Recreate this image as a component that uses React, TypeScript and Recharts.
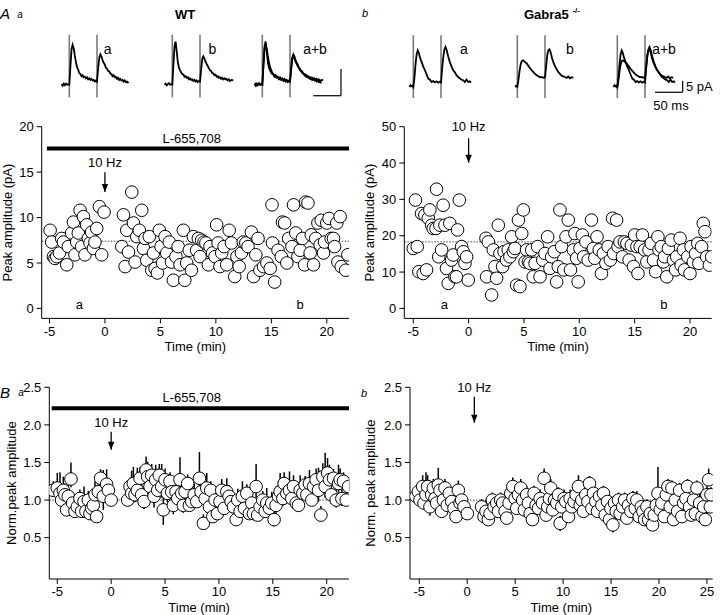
import React from "react";
import {
  ScatterChart,
  Scatter,
  XAxis,
  YAxis,
  ReferenceLine,
  ReferenceDot,
  ErrorBar,
  LineChart,
  Line,
} from "recharts";

const FONT = '"Liberation Sans", Arial, Helvetica, sans-serif';

// A a: WT peak amplitude (pA) vs time (min)
const wtPeak: [number, number][] = [
  [-4.94, 8.6], [-4.8, 7.3], [-4.64, 5.7], [-4.5, 5.5], [-4.34, 5.7], [-4.1, 6.1], [-3.9, 7.7], [-3.74, 7.3],
  [-3.44, 4.8], [-3.3, 6.8], [-3.0, 8.3], [-2.84, 9.5], [-2.7, 5.9], [-2.54, 7.3], [-2.4, 8.3], [-2.24, 10.8],
  [-2.1, 6.8], [-1.94, 10.1], [-1.8, 5.9], [-1.64, 9.2], [-1.5, 7.7], [-1.34, 7.2], [-1.2, 8.4], [-1.04, 6.6],
  [-0.9, 7.3], [-0.74, 8.8], [-0.5, 11.2], [-0.29, 5.9], [-0.08, 10.6],
  [1.52, 6.8], [1.67, 10.3], [1.82, 4.6], [1.97, 8.6], [2.12, 6.2], [2.42, 12.8], [2.57, 9.4], [2.72, 5.1],
  [2.87, 7.9], [3.1, 8.6], [3.32, 10.8], [3.47, 6.6], [3.62, 7.7], [3.77, 5.3], [4.0, 7.9], [4.22, 4.2],
  [4.37, 6.1], [4.52, 4.4], [4.73, 3.9], [4.9, 8.6], [5.06, 6.8], [5.2, 5.0], [5.42, 7.9], [5.57, 6.1],
  [5.8, 7.3], [6.0, 5.1], [6.17, 3.1], [6.4, 5.7], [6.6, 6.8], [6.77, 4.8], [7.07, 8.6], [7.2, 3.1],
  [7.37, 5.0], [7.6, 6.4], [7.8, 4.2], [7.97, 7.9], [8.27, 6.4], [8.42, 7.7], [8.57, 5.7], [8.72, 7.5],
  [8.93, 7.3], [9.1, 7.2], [9.32, 4.8], [9.47, 6.8], [9.7, 6.1], [9.92, 5.7], [10.07, 9.2], [10.2, 7.2],
  [10.37, 4.6], [10.53, 6.1], [10.74, 6.8], [10.98, 4.8], [11.2, 8.6], [11.4, 7.2], [11.7, 3.5], [11.9, 5.7],
  [12.1, 4.6], [12.3, 6.1], [12.47, 7.3], [12.7, 7.2], [12.9, 6.8], [13.2, 8.4], [13.4, 3.5], [13.6, 5.9],
  [13.8, 7.7], [13.97, 4.2], [14.3, 4.6], [14.6, 5.0], [14.9, 4.4], [15.06, 11.4], [15.1, 7.2], [15.3, 2.9],
  [15.6, 6.4], [15.9, 5.7], [16.0, 9.5], [16.2, 9.4], [16.4, 5.0], [16.56, 7.7], [16.86, 6.8], [17.0, 11.4],
  [17.2, 8.3], [17.4, 5.7], [17.6, 6.4], [17.8, 7.7], [18.0, 4.8], [18.1, 11.7], [18.3, 11.6], [18.5, 6.1],
  [18.6, 8.1], [18.8, 4.8], [19.0, 7.7], [19.2, 9.4], [19.4, 7.0], [19.5, 9.7], [19.7, 6.1], [19.8, 7.3],
  [20.0, 9.4], [20.2, 9.9], [20.4, 7.7], [20.6, 7.7], [20.7, 6.8], [20.9, 9.4], [21.0, 5.1], [21.2, 10.1],
  [21.3, 4.6], [21.7, 4.2], [21.9, 5.9],
];

// A b: Gabra5-/- peak amplitude (pA)
const koPeak: [number, number][] = [
  [-5.0, 16.5], [-4.8, 29.8], [-4.64, 17.0], [-4.5, 10.1], [-4.25, 26.1], [-4.1, 9.6], [-3.95, 25.7], [-3.8, 10.6],
  [-3.64, 24.8], [-3.5, 27.1], [-3.34, 22.9], [-3.2, 22.0], [-2.95, 22.0], [-2.9, 32.8], [-2.7, 14.2], [-2.6, 22.9],
  [-2.44, 16.1], [-2.3, 28.4], [-2.14, 22.9], [-2.0, 11.0], [-1.84, 6.9], [-1.7, 23.4], [-1.54, 13.3], [-1.4, 14.7],
  [-1.24, 8.7], [-1.1, 8.7], [-1.0, 21.6], [-0.84, 29.8], [-0.63, 17.0], [-0.48, 15.6], [-0.33, 12.4], [-0.18, 14.2],
  [-0.03, 7.8],
  [1.57, 19.3], [1.63, 8.7], [1.78, 18.3], [2.08, 3.7], [2.23, 16.1], [2.38, 11.5], [2.53, 8.3], [2.68, 22.9],
  [2.83, 15.1], [3.07, 11.5], [3.2, 15.6], [3.43, 13.3], [3.58, 16.1], [3.73, 14.2], [3.89, 19.7], [4.04, 15.6],
  [4.19, 16.5], [4.34, 6.4], [4.5, 24.3], [4.64, 6.0], [4.8, 20.6], [4.94, 27.1], [5.1, 12.8], [5.24, 16.1],
  [5.4, 12.8], [5.54, 12.4], [5.7, 16.1], [5.84, 8.7], [6.0, 12.4], [6.23, 17.0], [6.45, 8.7], [6.7, 13.3],
  [6.9, 15.1], [7.14, 19.7], [7.35, 11.0], [7.5, 14.2], [7.74, 15.6], [7.95, 7.3], [8.1, 11.5], [8.25, 27.1],
  [8.4, 17.0], [8.6, 10.6], [8.8, 19.7], [9.0, 24.3], [9.2, 10.6], [9.46, 16.1], [9.6, 20.6], [9.76, 13.8],
  [9.9, 7.3], [10.06, 16.5], [10.27, 20.2], [10.4, 14.2], [10.6, 18.3], [10.8, 13.3], [11.1, 24.3], [11.27, 16.5],
  [11.4, 13.8], [11.6, 19.7], [11.8, 16.1], [12.0, 9.6], [12.17, 15.1], [12.4, 12.4], [12.6, 17.0], [12.8, 13.3],
  [13.0, 24.8], [13.1, 15.1], [13.37, 24.3], [13.5, 17.0], [13.67, 18.3], [13.9, 14.2], [14.07, 18.3], [14.3, 17.9],
  [14.5, 13.3], [14.7, 17.4], [14.9, 11.5], [15.0, 20.2], [15.2, 17.0], [15.3, 9.6], [15.5, 17.0], [15.7, 20.2],
  [15.9, 16.1], [16.1, 12.8], [16.3, 16.1], [16.5, 17.9], [16.7, 13.3], [16.9, 10.1], [17.1, 19.7], [17.2, 16.1],
  [17.4, 17.0], [17.6, 12.8], [17.7, 14.2], [17.9, 8.7], [18.05, 16.5], [18.3, 18.8], [18.5, 13.3], [18.7, 10.6],
  [18.8, 14.2], [19.1, 19.3], [19.2, 11.9], [19.4, 16.1], [19.5, 10.6], [19.8, 14.2], [20.0, 9.6], [20.1, 17.0],
  [20.3, 12.8], [20.5, 15.1], [20.7, 17.9], [20.8, 12.4], [21.05, 17.0], [21.2, 23.4], [21.35, 21.1], [21.5, 14.2],
  [21.75, 11.9], [21.96, 14.2],
];

// B a: WT normalised peak amplitude [time, mean, error below, error above]
const wtNorm: [number, number, number, number][] = [
  [-5.37, 1.13, 0.06, 0.12], [-5.0, 1.16, 0.1, 0.2], [-4.75, 1.09, 0.14, 0.28], [-4.6, 1.0, 0.08, 0.15], [-4.44, 1.13, 0.09, 0.18], [-4.29, 1.07, 0.08, 0.15],
  [-4.13, 0.87, 0.06, 0.12], [-3.98, 1.05, 0.1, 0.2], [-3.73, 1.28, 0.11, 0.22], [-3.58, 0.96, 0.08, 0.15], [-3.36, 0.85, 0.06, 0.12], [-3.14, 0.91, 0.09, 0.18],
  [-2.9, 1.02, 0.06, 0.12], [-2.74, 0.85, 0.08, 0.15], [-2.52, 0.98, 0.1, 0.2], [-2.34, 0.85, 0.09, 0.18], [-2.12, 1.0, 0.06, 0.12], [-1.97, 0.82, 0.08, 0.15],
  [-1.81, 0.89, 0.08, 0.15], [-1.66, 0.93, 0.06, 0.12], [-1.5, 1.07, 0.09, 0.18], [-1.35, 0.78, 0.06, 0.12], [-1.19, 1.11, 0.08, 0.15], [-0.98, 1.29, 0.06, 0.12],
  [-0.73, 1.05, 0.18, 0.35], [-0.42, 1.21, 0.1, 0.2], [-0.26, 1.13, 0.06, 0.12], [0.0, 1.0, 0.05, 0.1],
  [1.53, 1.0, 0.08, 0.15], [1.75, 1.18, 0.06, 0.12], [1.9, 1.09, 0.15, 0.3], [2.06, 1.22, 0.11, 0.22], [2.21, 1.07, 0.1, 0.2], [2.43, 1.13, 0.15, 0.3],
  [2.68, 1.29, 0.08, 0.15], [2.83, 1.07, 0.09, 0.18], [3.05, 0.98, 0.1, 0.2], [3.24, 1.4, 0.09, 0.18], [3.39, 1.31, 0.1, 0.2], [3.61, 1.18, 0.12, 0.25],
  [3.76, 1.33, 0.08, 0.15], [3.98, 1.05, 0.15, 0.3], [4.13, 1.27, 0.1, 0.2], [4.32, 1.13, 0.14, 0.28], [4.47, 1.33, 0.08, 0.15], [4.69, 1.18, 0.15, 0.3],
  [4.84, 0.87, 0.2, 0.2], [5.0, 1.27, 0.08, 0.15], [5.22, 1.09, 0.12, 0.25], [5.46, 1.25, 0.06, 0.12], [5.62, 1.11, 0.09, 0.18], [5.77, 0.93, 0.12, 0.25],
  [6.02, 1.11, 0.08, 0.15], [6.18, 1.02, 0.06, 0.12], [6.39, 1.27, 0.15, 0.3], [6.55, 1.09, 0.08, 0.15], [6.7, 0.93, 0.1, 0.2], [6.86, 1.11, 0.08, 0.15],
  [7.1, 1.22, 0.06, 0.12], [7.26, 0.93, 0.08, 0.15], [7.48, 0.98, 0.1, 0.2], [7.7, 1.07, 0.08, 0.15], [7.94, 0.98, 0.06, 0.12], [8.19, 1.29, 0.18, 0.35],
  [8.34, 1.11, 0.1, 0.2], [8.56, 0.69, 0.06, 0.12], [8.72, 1.02, 0.08, 0.15], [8.87, 1.16, 0.1, 0.2], [9.12, 0.91, 0.08, 0.15], [9.24, 1.13, 0.06, 0.12],
  [9.43, 0.78, 0.08, 0.15], [9.64, 1.0, 0.06, 0.12], [9.86, 0.82, 0.08, 0.15], [10.1, 0.98, 0.06, 0.12], [10.26, 1.13, 0.08, 0.15], [10.48, 0.89, 0.06, 0.12],
  [10.73, 1.11, 0.09, 0.18], [10.94, 1.05, 0.08, 0.15], [11.13, 0.98, 0.08, 0.15], [11.35, 0.91, 0.06, 0.12], [11.6, 0.74, 0.06, 0.12], [11.75, 1.0, 0.08, 0.15],
  [11.97, 0.85, 0.08, 0.15], [12.18, 1.05, 0.1, 0.2], [12.37, 0.89, 0.08, 0.15], [12.59, 1.09, 0.06, 0.12], [12.83, 0.82, 0.08, 0.15], [13.05, 0.96, 0.06, 0.12],
  [13.2, 0.82, 0.08, 0.15], [13.45, 1.18, 0.15, 0.3], [13.6, 0.8, 0.06, 0.12], [13.82, 0.91, 0.08, 0.15], [14.07, 1.0, 0.06, 0.12], [14.29, 0.85, 0.08, 0.15],
  [14.44, 0.96, 0.15, 0.2], [14.69, 0.89, 0.06, 0.12], [14.9, 0.96, 0.12, 0.15], [15.12, 0.74, 0.09, 0.18], [15.3, 0.93, 0.12, 0.25], [15.53, 1.05, 0.1, 0.2],
  [15.68, 1.11, 0.12, 0.25], [15.93, 1.02, 0.1, 0.2], [16.05, 1.22, 0.08, 0.15], [16.3, 1.09, 0.1, 0.2], [16.55, 1.13, 0.12, 0.25], [16.76, 1.02, 0.09, 0.18],
  [16.92, 1.18, 0.08, 0.15], [17.17, 0.96, 0.08, 0.15], [17.38, 0.93, 0.06, 0.12], [17.54, 1.13, 0.1, 0.2], [17.79, 1.09, 0.08, 0.15], [18.0, 1.2, 0.06, 0.12],
  [18.16, 1.07, 0.1, 0.2], [18.4, 1.22, 0.09, 0.18], [18.62, 1.0, 0.08, 0.15], [18.78, 1.18, 0.08, 0.15], [19.02, 1.27, 0.08, 0.15], [19.24, 1.13, 0.15, 0.3],
  [19.46, 0.8, 0.06, 0.12], [19.64, 1.31, 0.09, 0.18], [19.86, 1.18, 0.15, 0.45], [20.08, 1.36, 0.1, 0.2], [20.26, 1.27, 0.1, 0.2], [20.42, 1.07, 0.12, 0.25],
  [20.63, 1.29, 0.06, 0.12], [20.88, 1.0, 0.1, 0.2], [21.1, 1.22, 0.12, 0.25], [21.25, 1.27, 0.08, 0.15], [21.41, 1.02, 0.1, 0.2], [21.56, 1.25, 0.06, 0.12],
  [21.81, 1.0, 0.08, 0.15], [22.03, 1.18, 0.06, 0.12],
];

// B b: Gabra5-/- normalised peak amplitude [time, mean, error below, error above]
const koNorm: [number, number, number, number][] = [
  [-5.35, 1.05, 0.05, 0.1], [-5.1, 1.11, 0.06, 0.12], [-4.93, 1.0, 0.05, 0.1], [-4.65, 1.18, 0.08, 0.15], [-4.51, 0.96, 0.05, 0.1], [-4.3, 1.07, 0.15, 0.3],
  [-4.13, 1.18, 0.08, 0.15], [-3.89, 0.91, 0.12, 0.12], [-3.71, 1.07, 0.05, 0.1], [-3.54, 1.16, 0.06, 0.12], [-3.36, 1.02, 0.05, 0.1], [-3.19, 0.96, 0.06, 0.12],
  [-3.02, 1.2, 0.12, 0.23], [-2.84, 1.13, 0.05, 0.1], [-2.67, 0.85, 0.06, 0.12], [-2.49, 1.0, 0.05, 0.1], [-2.32, 1.16, 0.06, 0.12], [-2.08, 0.93, 0.12, 0.15],
  [-1.87, 1.09, 0.05, 0.1], [-1.62, 0.98, 0.06, 0.12], [-1.38, 0.89, 0.05, 0.1], [-1.17, 0.78, 0.06, 0.12], [-0.93, 1.13, 0.07, 0.13], [-0.75, 0.96, 0.05, 0.1],
  [-0.58, 1.0, 0.05, 0.1], [-0.34, 0.91, 0.06, 0.12], [0.01, 0.82, 0.05, 0.1],
  [1.5, 0.91, 0.05, 0.1], [1.75, 0.78, 0.06, 0.12], [1.96, 0.85, 0.15, 0.15], [2.2, 0.74, 0.06, 0.12], [2.38, 0.82, 0.05, 0.1], [2.62, 1.0, 0.05, 0.1],
  [2.8, 0.91, 0.05, 0.1], [3.08, 0.96, 0.05, 0.1], [3.25, 0.85, 0.06, 0.12], [3.49, 1.0, 0.05, 0.1], [3.7, 0.96, 0.05, 0.1], [3.95, 0.85, 0.06, 0.12],
  [4.12, 0.76, 0.05, 0.1], [4.36, 0.96, 0.05, 0.1], [4.54, 1.09, 0.08, 0.15], [4.75, 1.18, 0.06, 0.12], [4.99, 1.02, 0.05, 0.1], [5.16, 0.89, 0.06, 0.12],
  [5.34, 1.07, 0.05, 0.1], [5.58, 1.16, 0.06, 0.12], [5.79, 1.0, 0.05, 0.1], [5.96, 0.87, 0.05, 0.1], [6.2, 1.07, 0.06, 0.12], [6.38, 0.96, 0.05, 0.1],
  [6.56, 0.82, 0.05, 0.1], [6.8, 0.74, 0.06, 0.12], [6.97, 1.09, 0.05, 0.1], [7.18, 0.93, 0.05, 0.1], [7.43, 0.89, 0.05, 0.1], [7.6, 1.02, 0.06, 0.12],
  [7.84, 0.96, 0.05, 0.1], [8.02, 1.29, 0.07, 0.13], [8.23, 0.8, 0.05, 0.1], [8.4, 0.91, 0.06, 0.12], [8.57, 1.02, 0.05, 0.1], [8.71, 1.16, 0.06, 0.12],
  [8.92, 0.87, 0.05, 0.1], [9.1, 1.0, 0.05, 0.1], [9.34, 0.96, 0.06, 0.12], [9.51, 1.07, 0.05, 0.1], [9.69, 0.69, 0.1, 0.1], [9.86, 0.91, 0.05, 0.1],
  [10.1, 1.02, 0.06, 0.12], [10.28, 0.98, 0.05, 0.1], [10.56, 0.78, 0.05, 0.1], [10.73, 1.02, 0.06, 0.12], [10.9, 0.91, 0.05, 0.1], [11.15, 0.98, 0.05, 0.1],
  [11.36, 1.07, 0.06, 0.12], [11.6, 1.18, 0.08, 0.15], [11.78, 0.93, 0.05, 0.1], [11.95, 1.0, 0.05, 0.1], [12.12, 0.85, 0.06, 0.12], [12.37, 1.07, 0.05, 0.1],
  [12.58, 0.98, 0.05, 0.1], [12.75, 1.22, 0.05, 0.1], [13.0, 0.89, 0.06, 0.12], [13.17, 1.09, 0.05, 0.1], [13.41, 0.98, 0.05, 0.1], [13.59, 0.85, 0.06, 0.12],
  [13.8, 1.05, 0.05, 0.1], [14.04, 0.93, 0.05, 0.1], [14.21, 1.09, 0.05, 0.1], [14.39, 0.8, 0.06, 0.12], [14.63, 0.98, 0.05, 0.1], [14.84, 0.74, 0.05, 0.1],
  [14.98, 0.89, 0.05, 0.1], [15.19, 0.67, 0.1, 0.1], [15.36, 0.96, 0.05, 0.1], [15.54, 0.85, 0.06, 0.12], [15.78, 1.0, 0.05, 0.1], [15.95, 0.82, 0.05, 0.1],
  [16.2, 0.91, 0.05, 0.1], [16.41, 1.0, 0.05, 0.1], [16.65, 0.76, 0.06, 0.12], [16.82, 0.93, 0.05, 0.1], [17.07, 0.85, 0.05, 0.1], [17.28, 1.02, 0.05, 0.1],
  [17.52, 0.89, 0.05, 0.1], [17.69, 1.0, 0.06, 0.12], [17.94, 0.78, 0.05, 0.1], [18.15, 0.91, 0.05, 0.1], [18.32, 0.85, 0.05, 0.1], [18.5, 0.74, 0.06, 0.12],
  [18.74, 0.91, 0.05, 0.1], [18.91, 0.74, 0.05, 0.1], [19.09, 0.82, 0.05, 0.1], [19.33, 0.67, 0.06, 0.12], [19.5, 0.8, 0.05, 0.1], [19.71, 0.93, 0.05, 0.1],
  [19.89, 1.09, 0.08, 0.35], [20.13, 0.87, 0.06, 0.12], [20.3, 0.96, 0.05, 0.1], [20.55, 0.78, 0.05, 0.1], [20.76, 1.07, 0.06, 0.12], [20.93, 1.18, 0.05, 0.1],
  [21.17, 0.91, 0.05, 0.1], [21.35, 1.16, 0.05, 0.1], [21.52, 0.74, 0.05, 0.1], [21.7, 1.0, 0.06, 0.12], [21.94, 0.85, 0.05, 0.1], [22.15, 1.13, 0.05, 0.1],
  [22.39, 0.78, 0.05, 0.1], [22.57, 0.96, 0.06, 0.12], [22.81, 1.02, 0.05, 0.1], [22.98, 1.18, 0.05, 0.1], [23.19, 0.91, 0.05, 0.1], [23.37, 0.8, 0.06, 0.12],
  [23.61, 1.0, 0.05, 0.1], [23.79, 0.82, 0.05, 0.1], [23.96, 1.16, 0.05, 0.1], [24.24, 0.96, 0.06, 0.12], [24.48, 0.78, 0.05, 0.1], [24.66, 0.91, 0.09, 0.18],
  [24.83, 0.74, 0.08, 0.15], [25.0, 1.07, 0.06, 0.12], [25.18, 1.27, 0.08, 0.15], [25.35, 0.91, 0.05, 0.1], [25.42, 1.07, 0.05, 0.1],
];

// example paired-pulse traces, [ms, pA]
const wtTraceA: [number, number][] = [
  [-14, 0.1], [-12, -0.2], [-10, 0.2], [-8, -0.1], [-6, 0.2], [-4, 0], [-2, 0.1], [0, 0], [2, 3.4], [4, 6.6], [6, 7.5],
  [8, 6.8], [10, 5.4], [12, 4.2], [14, 3.3], [16, 2.8], [18, 2.2], [20, 2.0], [22, 1.6], [24, 1.8], [26, 1.4], [28, 1.5],
  [30, 1.2], [32, 1.4], [34, 1.0], [36, 1.2], [38, 0.9], [40, 1.1], [42, 0.8], [44, 0.9], [46, 0.6], [48, 0.8], [50, 0.6],
  [52, 3.0], [54, 5.0], [56, 5.7], [58, 5.3], [60, 4.6], [62, 4.1], [64, 3.8], [66, 3.2], [68, 3.0], [70, 2.6], [72, 2.5],
  [74, 2.1], [76, 2.0], [78, 1.6], [80, 1.8], [82, 1.4], [84, 1.5], [86, 1.1], [88, 1.3], [90, 0.9], [92, 1.1], [94, 0.8],
  [96, 0.9], [98, 0.6], [100, 0.8], [102, 0.5], [104, 0.6], [107, 0.3],
];
const wtTraceB: [number, number][] = [
  [-14, 0], [-12, 0.2], [-10, -0.1], [-8, 0.1], [-6, 0.3], [-4, 0], [-2, 0.1], [0, 0], [2, 3.8], [4, 7.2], [6, 8.1],
  [8, 6.2], [10, 4.2], [12, 3.2], [14, 2.7], [16, 2.3], [18, 2.0], [20, 1.9], [22, 1.5], [24, 1.6], [26, 1.3], [28, 1.4],
  [30, 1.0], [32, 1.2], [34, 0.9], [36, 1.0], [38, 0.7], [40, 0.9], [42, 0.6], [44, 0.8], [46, 0.5], [48, 0.7], [50, 0.6],
  [52, 2.8], [54, 4.8], [56, 5.3], [58, 4.9], [60, 4.3], [62, 3.9], [64, 3.5], [66, 3.1], [68, 2.7], [70, 2.6], [72, 2.2],
  [74, 2.1], [76, 1.8], [78, 1.9], [80, 1.5], [82, 1.6], [84, 1.3], [86, 1.4], [88, 1.1], [90, 1.3], [92, 1.0], [94, 1.2],
  [96, 1.0], [98, 1.1], [100, 0.8], [102, 1.0], [104, 0.7], [107, 0.9], [110, 0.8],
];
const koTraceA: [number, number][] = [
  [-7, 0], [-5, 0.8], [-3, 0.3], [-1, 0.5], [0, 0], [2, 4], [4, 10], [6, 14.5], [8, 16.2], [10, 15], [12, 13], [15, 11],
  [18, 9], [21, 7.4], [24, 5.5], [27, 3.7], [30, 3.2], [33, 2.2], [36, 2.6], [39, 2.0], [42, 2.5], [45, 1.9], [48, 2.4],
  [50, 2.0], [52, 8], [54, 13], [56, 16.5], [58, 17.7], [60, 16.5], [63, 13.5], [66, 11], [69, 9], [72, 7.4], [75, 6.5],
  [78, 5.2], [81, 4.4], [84, 3.8], [87, 3.2], [90, 3.0], [93, 2.2], [96, 3.3], [99, 2.2], [102, 2.5], [104, 1.9],
];
const koTraceB: [number, number][] = [
  [-4, 0], [-2, 0.5], [0, 0], [2, 3], [4, 7], [6, 10], [8, 11.5], [10, 11.8], [13, 11.2], [17, 10.4], [21, 9], [24, 8],
  [26, 7.4], [29, 6.6], [32, 5.8], [35, 5.2], [38, 4.7], [41, 4.3], [44, 4.4], [47, 4.1], [50, 4.2], [52, 9], [54, 14],
  [56, 16.3], [58, 16.7], [60, 15.5], [63, 12.5], [65, 11], [68, 9.2], [71, 7.8], [74, 6.6], [77, 5.8], [80, 5.0],
  [83, 4.7], [86, 4.4], [89, 4.0], [92, 4.6], [95, 3.8], [98, 4.3], [101, 4.0],
];

const timeTicks = [-5, 0, 5, 10, 15, 20];
const timeTicksLong = [-5, 0, 5, 10, 15, 20, 25];
const wtPeakTicks = [0, 5, 10, 15, 20];
const koPeakTicks = [0, 10, 20, 30, 40, 50];
const normTicks = [0.5, 1.0, 1.5, 2.0, 2.5];

const toPoints = (rows: number[][]) =>
  rows.map((r) => ({ t: r[0], v: r[1], e: r.length > 2 ? [r[2], r[3]] : undefined }));
const toTrace = (rows: [number, number][]) => rows.map((r) => ({ t: r[0], i: r[1] }));

const openCircle = (p: any) => (
  <circle cx={p.cx} cy={p.cy} r={6.3} fill="#fff" stroke="#000" strokeWidth={1} />
);

// text placed at a data coordinate
function note(key: string, x: number, y: number, text: string) {
  return (
    <ReferenceDot
      key={key}
      x={x}
      y={y}
      r={1}
      ifOverflow="visible"
      shape={(p: any) => (
        <text x={p.cx} y={p.cy} dy="0.36em" textAnchor="middle" fontSize={13} fill="#000">
          {text}
        </text>
      )}
    />
  );
}

function arrow(key: string, x: number, yTop: number, yTip: number) {
  return [
    <ReferenceLine
      key={key + "-shaft"}
      segment={[{ x, y: yTop }, { x, y: yTip }]}
      stroke="#000"
      strokeWidth={1.3}
      ifOverflow="visible"
    />,
    <ReferenceDot
      key={key + "-head"}
      x={x}
      y={yTip}
      r={1}
      ifOverflow="visible"
      shape={(p: any) => (
        <path d={`M${p.cx - 3.2},${p.cy - 8}L${p.cx + 3.2},${p.cy - 8}L${p.cx},${p.cy}Z`} fill="#000" />
      )}
    />,
  ];
}

function drugBar(key: string, x0: number, x1: number, y: number) {
  return (
    <ReferenceLine
      key={key}
      segment={[{ x: x0, y }, { x: x1, y }]}
      stroke="#000"
      strokeWidth={4}
      ifOverflow="visible"
    />
  );
}

type PanelProps = {
  left: number;
  top: number;
  width: number;
  height: number;
  marginTop: number;
  marginRight: number;
  yWidth: number;
  xHeight: number;
  xDomain: [number, number];
  yDomain: [number, number];
  xTicks: number[];
  yTicks: number[];
  yDecimals: number;
  yLabel: string;
  yLabelOffset: number;
  xLabelOffset: number;
  baseline: number;
  data: { t: number; v: number; e?: number[] }[];
  errors?: boolean;
  children?: React.ReactNode;
};

function Panel(p: PanelProps) {
  const tickStyle = { fill: "#000", fontSize: 13 };
  return (
    <div style={{ position: "absolute", left: p.left, top: p.top }}>
      <ScatterChart
        width={p.width}
        height={p.height}
        margin={{ top: p.marginTop, right: p.marginRight, bottom: 0, left: 0 }}
      >
        <XAxis
          type="number"
          dataKey="t"
          domain={p.xDomain}
          ticks={p.xTicks}
          allowDataOverflow
          height={p.xHeight}
          tick={tickStyle}
          tickSize={5}
          tickMargin={3}
          axisLine={{ stroke: "#000" }}
          tickLine={{ stroke: "#000" }}
          label={{ value: "Time (min)", position: "insideBottom", offset: p.xLabelOffset, fill: "#000", fontSize: 13 }}
        />
        <YAxis
          type="number"
          dataKey="v"
          domain={p.yDomain}
          ticks={p.yTicks}
          allowDataOverflow
          width={p.yWidth}
          tick={tickStyle}
          tickSize={5}
          tickMargin={3}
          tickFormatter={(v: number) => v.toFixed(p.yDecimals)}
          axisLine={{ stroke: "#000" }}
          tickLine={{ stroke: "#000" }}
          label={{
            value: p.yLabel,
            angle: -90,
            position: "insideLeft",
            offset: p.yLabelOffset,
            fill: "#000",
            fontSize: 13,
            style: { textAnchor: "middle" },
          }}
        />
        <Scatter data={p.data} shape={openCircle} isAnimationActive={false}>
          {p.errors && <ErrorBar dataKey="e" direction="y" width={0} stroke="#000" strokeWidth={1.5} />}
        </Scatter>
        <ReferenceLine y={p.baseline} stroke="#444" strokeWidth={1} strokeDasharray="1.5 1.5" />
        {p.children}
      </ScatterChart>
    </div>
  );
}

type TraceProps = {
  left: number;
  top: number;
  xMax: number;
  yDomain: [number, number];
  pxPerPA: number;
  stim: [number, number];
  traces: { t: number; i: number }[][];
  scale?: { x0: number; x1: number; y0: number; y1: number };
};

const PX_PER_MS = 0.554;

function TracePlot({ left, top, xMax, yDomain, pxPerPA, stim, traces, scale }: TraceProps) {
  const width = (xMax + 15) * PX_PER_MS;
  const height = (yDomain[1] - yDomain[0]) * pxPerPA;
  return (
    <div style={{ position: "absolute", left, top }}>
      <LineChart width={width} height={height} margin={{ top: 0, right: 0, bottom: 0, left: 0 }}>
        <XAxis type="number" dataKey="t" domain={[-15, xMax]} allowDataOverflow hide />
        <YAxis type="number" domain={yDomain} allowDataOverflow hide />
        {[0, 50].map((s) => (
          <ReferenceLine
            key={s}
            segment={[{ x: s, y: stim[0] }, { x: s, y: stim[1] }]}
            stroke="#7a7a7a"
            strokeWidth={1.6}
          />
        ))}
        {traces.map((d, k) => (
          <Line
            key={k}
            data={d}
            dataKey="i"
            stroke="#000"
            strokeWidth={1.8}
            dot={false}
            isAnimationActive={false}
          />
        ))}
        {scale && (
          <ReferenceLine segment={[{ x: scale.x0, y: scale.y0 }, { x: scale.x1, y: scale.y0 }]} stroke="#000" strokeWidth={1.2} />
        )}
        {scale && (
          <ReferenceLine segment={[{ x: scale.x1, y: scale.y0 }, { x: scale.x1, y: scale.y1 }]} stroke="#000" strokeWidth={1.2} />
        )}
      </LineChart>
    </div>
  );
}

function Txt({ x, y, size = 13, bold = false, italic = false, children }: any) {
  return (
    <div
      style={{
        position: "absolute",
        left: x,
        top: y,
        transform: "translate(-50%, -50%)",
        fontSize: size,
        fontWeight: bold ? "bold" : "normal",
        fontStyle: italic ? "italic" : "normal",
        lineHeight: 1,
        whiteSpace: "nowrap",
      }}
    >
      {children}
    </div>
  );
}

export default function App() {
  const wtA = toTrace(wtTraceA);
  const wtB = toTrace(wtTraceB);
  const koA = toTrace(koTraceA);
  const koB = toTrace(koTraceB);

  return (
    <div
      style={{
        position: "absolute",
        left: 0,
        top: 0,
        width: 720,
        height: 615,
        background: "#fff",
        fontFamily: FONT,
        color: "#000",
        overflow: "hidden",
      }}
    >
      {/* panel letters and titles */}
      <Txt x={5} y={13} size={15} italic>A</Txt>
      <Txt x={20} y={14.5} size={10} italic>a</Txt>
      <Txt x={185} y={14} bold>WT</Txt>
      <Txt x={365} y={13} size={11} italic>b</Txt>
      <Txt x={552} y={14} bold>
        Gabra5 <sup style={{ fontSize: 8 }}>-/-</sup>
      </Txt>
      <Txt x={5} y={392} size={15} italic>B</Txt>
      <Txt x={21} y={393} size={10} italic>a</Txt>
      <Txt x={364} y={393} size={11} italic>b</Txt>

      {/* example traces */}
      <TracePlot left={60.7} top={34.3} xMax={110} yDomain={[-2.5, 9.5]} pxPerPA={5.34} stim={[-2.38, 9.36]} traces={[wtA]} />
      <TracePlot left={164} top={34.3} xMax={112} yDomain={[-2.5, 9.5]} pxPerPA={5.34} stim={[-2.38, 9.36]} traces={[wtB]} />
      <TracePlot
        left={254}
        top={34.3}
        xMax={145}
        yDomain={[-2.5, 9.5]}
        pxPerPA={5.34}
        stim={[-2.38, 9.36]}
        traces={[wtA, wtB]}
        scale={{ x0: 92, x1: 142, y0: -2.06, y1: 2.94 }}
      />
      <TracePlot left={405} top={34.7} xMax={110} yDomain={[-5, 23]} pxPerPA={2.26} stim={[-4.9, 22.9]} traces={[koA]} />
      <TracePlot left={509} top={34.7} xMax={110} yDomain={[-5, 23]} pxPerPA={2.26} stim={[-4.9, 22.9]} traces={[koB]} />
      <TracePlot
        left={609}
        top={34.7}
        xMax={125}
        yDomain={[-5, 23]}
        pxPerPA={2.26}
        stim={[-4.9, 22.9]}
        traces={[koA, koB]}
        scale={{ x0: 68, x1: 118, y0: -2.35, y1: 2.65 }}
      />
      <Txt x={107.7} y={49} size={14}>a</Txt>
      <Txt x={212.3} y={49} size={14}>b</Txt>
      <Txt x={315} y={49} size={14}>a+b</Txt>
      <Txt x={464} y={49} size={14}>a</Txt>
      <Txt x={570} y={49} size={14}>b</Txt>
      <Txt x={664} y={49} size={14}>a+b</Txt>
      <div style={{ position: "absolute", left: 686, top: 86, transform: "translateY(-50%)", fontSize: 13, lineHeight: 1 }}>5 pA</div>
      <Txt x={671} y={105}>50 ms</Txt>

      {/* A a */}
      <Panel
        left={0}
        top={110}
        width={360}
        height={250}
        marginTop={16.7}
        marginRight={11}
        yWidth={41.7}
        xHeight={41.6}
        xDomain={[-5.7, 22]}
        yDomain={[-1.1, 20]}
        xTicks={timeTicks}
        yTicks={wtPeakTicks}
        yDecimals={0}
        yLabel="Peak amplitude (pA)"
        yLabelOffset={7}
        xLabelOffset={9}
        baseline={7.4}
        data={toPoints(wtPeak)}
      >
        {drugBar("bar", -5.23, 22, 17.6)}
        {note("drug", 7.83, 18.76, "L-655,708")}
        {arrow("arr", 0, 15.0, 12.8)}
        {note("hz", 0, 16.08, "10 Hz")}
        {note("la", -2.3, 0.44, "a")}
        {note("lb", 17.6, 0.44, "b")}
      </Panel>

      {/* A b */}
      <Panel
        left={360}
        top={110}
        width={360}
        height={250}
        marginTop={16.7}
        marginRight={8.3}
        yWidth={44.3}
        xHeight={41.6}
        xDomain={[-5.81, 21.96]}
        yDomain={[-2.75, 50]}
        xTicks={timeTicks}
        yTicks={koPeakTicks}
        yDecimals={0}
        yLabel="Peak amplitude (pA)"
        yLabelOffset={9}
        xLabelOffset={9}
        baseline={18.3}
        data={toPoints(koPeak)}
      >
        {arrow("arr", 0, 46.8, 40.1)}
        {note("hz", 0, 50.0, "10 Hz")}
        {note("la", -2.2, 1.1, "a")}
        {note("lb", 17.65, 1.1, "b")}
      </Panel>

      {/* B a */}
      <Panel
        left={0}
        top={370}
        width={360}
        height={245}
        marginTop={17.3}
        marginRight={11}
        yWidth={49.3}
        xHeight={36}
        xDomain={[-5.74, 22.07]}
        yDomain={[-0.05, 2.5]}
        xTicks={timeTicks}
        yTicks={normTicks}
        yDecimals={1}
        yLabel="Norm.peak amplitude"
        yLabelOffset={11.7}
        xLabelOffset={3}
        baseline={1.0}
        data={toPoints(wtNorm)}
        errors
      >
        {drugBar("bar", -5.52, 22.07, 2.22)}
        {note("drug", 7.47, 2.367, "L-655,708")}
        {arrow("arr", 0, 1.91, 1.67)}
        {note("hz", 0, 2.03, "10 Hz")}
      </Panel>

      {/* B b */}
      <Panel
        left={360}
        top={370}
        width={360}
        height={245}
        marginTop={17.3}
        marginRight={7.3}
        yWidth={50}
        xHeight={36}
        xDomain={[-5.97, 25.6]}
        yDomain={[-0.05, 2.5]}
        xTicks={timeTicksLong}
        yTicks={normTicks}
        yDecimals={1}
        yLabel="Norm. peak amplitude"
        yLabelOffset={10}
        xLabelOffset={3}
        baseline={1.0}
        data={toPoints(koNorm)}
        errors
      >
        {arrow("arr", 0.74, 2.375, 2.03)}
        {note("hz", 0.74, 2.504, "10 Hz")}
      </Panel>
    </div>
  );
}
